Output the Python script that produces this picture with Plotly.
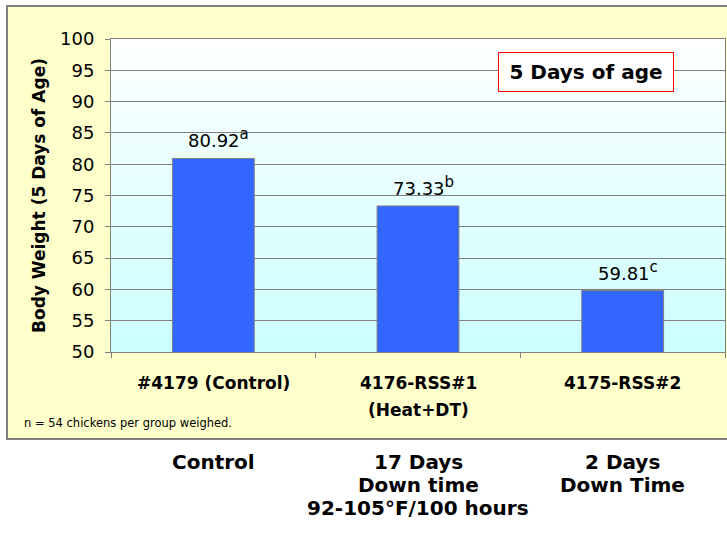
import plotly.graph_objects as go

# ---- data ----
categories = ["#4179 (Control)", "4176-RSS#1", "4175-RSS#2"]
tick_line2 = ["", "(Heat+DT)", ""]
body_weight = [80.92, 73.33, 59.81]
sig_letters = ["a", "b", "c"]
bottom_notes = [["Control"], ["17 Days", "Down time", "92-105°F/100 hours"], ["2 Days", "Down Time"]]
y_ticks = [50, 55, 60, 65, 70, 75, 80, 85, 90, 95, 100]

W, H = 727, 533
L, R, T, B = 111, 2, 39, 181
PW, PH = W - L - R, H - T - B
FONT = "DejaVu Sans"


def px_x(p):
    return (p - L) / PW


def px_y(p):
    return (H - B - p) / PH


fig = go.Figure()
fig.add_trace(go.Bar(
    x=categories, y=body_weight,
    marker=dict(color="#3366FF", line=dict(color="#808080", width=1)),
    width=0.4, showlegend=False, hoverinfo="x+y",
))

shapes = []
# outer yellow chart box
shapes.append(dict(type="rect", xref="paper", yref="paper",
                   x0=px_x(7), x1=px_x(729), y0=px_y(439), y1=px_y(6),
                   fillcolor="#FFFFCC", line=dict(color="#808080", width=2), layer="below"))
# gradient plot background
N = 60
for i in range(N):
    t = i / (N - 1)
    r = int(round(204 + (255 - 204) * t))
    col = f"rgb({r},255,255)"
    shapes.append(dict(type="rect", xref="x domain", yref="y domain",
                       x0=0, x1=1, y0=i / N, y1=min(1, (i + 1) / N + 0.002),
                       fillcolor=col, line=dict(width=0), layer="below"))

annotations = []
# value labels
for c, v, s in zip(categories, body_weight, sig_letters):
    annotations.append(dict(x=c, y=v, xref="x", yref="y",
                            text=f"{v:.2f}<sup><span style='font-size:15px'>{s}</span></sup>",
                            showarrow=False, yanchor="bottom", xanchor="center",
                            yshift=5, xshift=5, font=dict(family=FONT, size=18, color="black")))
# category labels
for c, l2 in zip(categories, tick_line2):
    annotations.append(dict(x=c, y=px_y(383), xref="x", yref="paper", text=f"<b>{c}</b>",
                            showarrow=False, yanchor="middle",
                            font=dict(family=FONT, size=17, color="black")))
    if l2:
        annotations.append(dict(x=c, y=px_y(410), xref="x", yref="paper", text=f"<b>{l2}</b>",
                                showarrow=False, yanchor="middle",
                                font=dict(family=FONT, size=17, color="black")))
# lower notes
for c, lines in zip(categories, bottom_notes):
    for j, line in enumerate(lines):
        annotations.append(dict(x=c, y=px_y(462 + 23 * j), xref="x", yref="paper",
                                text=f"<b>{line}</b>", showarrow=False, yanchor="middle",
                                font=dict(family=FONT, size=20, color="black")))
# footnote
annotations.append(dict(x=px_x(22), y=px_y(423), xref="paper", yref="paper",
                        text="n = 54 chickens per group weighed.", showarrow=False,
                        xanchor="left", yanchor="middle",
                        font=dict(family=FONT, size=11.5, color="black")))
# age box
annotations.append(dict(x=px_x(585.5), y=px_y(72), xref="paper", yref="paper",
                        text="<b>5 Days of age</b>", showarrow=False,
                        xanchor="center", yanchor="middle", width=170, height=34,
                        bgcolor="white", bordercolor="#FF0000", borderwidth=1, borderpad=2,
                        font=dict(family=FONT, size=20, color="black")))

fig.update_layout(
    width=W, height=H,
    margin=dict(l=L, r=R, t=T, b=B, pad=0),
    paper_bgcolor="white", plot_bgcolor="#E6FFFF",
    bargap=0.6,
    shapes=shapes, annotations=annotations,
    font=dict(family=FONT, color="black"),
    xaxis=dict(type="category", showticklabels=False, ticks="outside", ticklen=5,
               tickcolor="#808080", tickson="boundaries", showgrid=False,
               showline=True, linecolor="#808080", linewidth=1, mirror=True,
               range=[-0.5, 2.5], fixedrange=True),
    yaxis=dict(range=[50, 100], tickvals=y_ticks, ticks="outside", ticklen=5,
               tickcolor="#808080", showgrid=True, gridcolor="#808080", gridwidth=1,
               showline=True, linecolor="#808080", linewidth=1, mirror=True,
               zeroline=False, ticklabelstandoff=7,
               tickfont=dict(family=FONT, size=18, color="black"),
               title=dict(text="<b>Body Weight (5 Days of Age)</b>", standoff=10,
                          font=dict(family=FONT, size=17, color="black"))),
)

fig.write_html(
    "out.html",
    config={"displayModeBar": False},
    post_script="document.body.style.margin='0';document.body.style.padding='0';"
                "document.body.style.overflow='hidden';",
)
